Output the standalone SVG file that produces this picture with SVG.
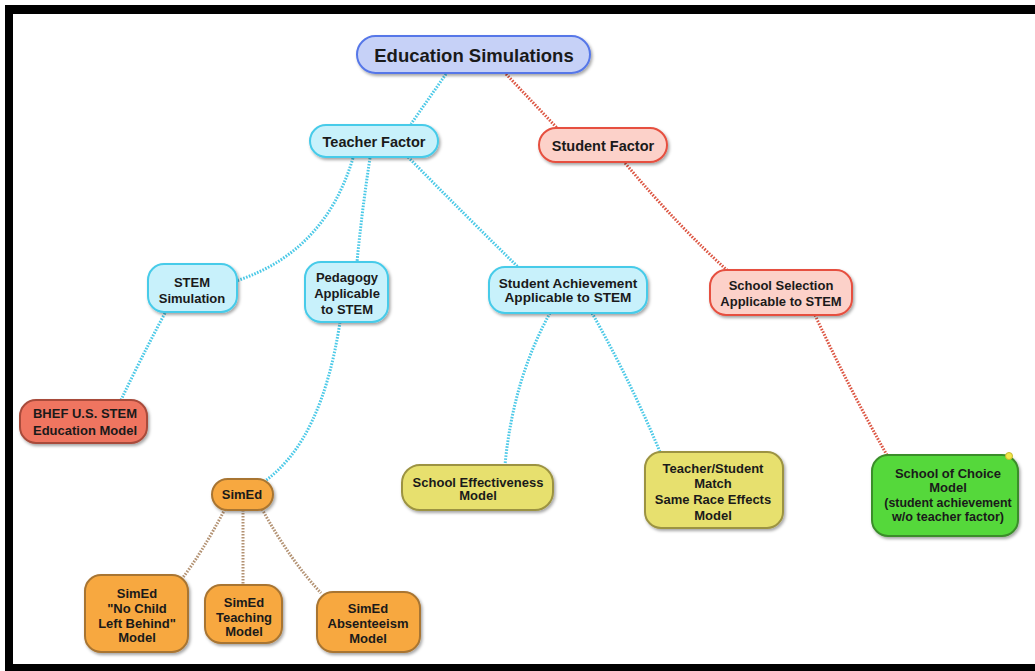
<svg xmlns="http://www.w3.org/2000/svg" width="1035" height="671" viewBox="0 0 1035 671">
  <defs>
    <filter id="shadow" x="-20%" y="-20%" width="140%" height="150%">
      <feDropShadow dx="1.5" dy="2" stdDeviation="1.4" flood-color="#000" flood-opacity="0.35"/>
    </filter>
  </defs>
  <style>
    text { font-family: "Liberation Sans", Arial, Helvetica, sans-serif; font-weight: bold; fill: #1a1a1a; text-anchor: middle; font-size: 13px; }
    .node rect { stroke-width: 2; filter: url(#shadow); }
    .blue rect { fill: #c6d1f7; stroke: #5677e8; }
    .cyan rect { fill: #c8f1fb; stroke: #46cbe9; }
    .red rect { fill: #fcd1c9; stroke: #e6503f; }
    .brick rect { fill: #ef7561; stroke: #a84b3b; }
    .orange rect { fill: #f7a83f; stroke: #a87533; }
    .yellow rect { fill: #e7e06e; stroke: #9c9342; }
    .green rect { fill: #55d83b; stroke: #3b8d2b; }
    .links path { fill: none; stroke-width: 3; stroke-dasharray: 1.6 1.4; }
    .links .c { stroke: #4cc9e7; }
    .links .r { stroke: #dc5542; }
    .links .b { stroke: #b39273; }
  </style>

  <!-- frame -->
  <rect x="0" y="0" width="1035" height="671" fill="#fff"/>
  <rect x="5" y="5" width="1040" height="680" fill="#000"/>
  <rect x="13" y="14" width="1030" height="650" fill="#fff"/>

  <!-- connectors -->
  <g id="connectors" class="links">
    <path class="c" d="M446,74 L411,124"/>
    <path class="r" d="M506,74 L558,129"/>
    <path class="c" d="M353,158 Q325,252 236,281"/>
    <path class="c" d="M370,158 Q362,210 357,262"/>
    <path class="c" d="M408,157 Q465,215 518,267"/>
    <path class="r" d="M625,163 Q680,228 728,271"/>
    <path class="c" d="M165,313 Q140,360 121,400"/>
    <path class="c" d="M340,322 Q322,440 265,481"/>
    <path class="c" d="M550,313 Q513,380 505,465"/>
    <path class="c" d="M592,313 Q630,380 660,452"/>
    <path class="r" d="M815,315 Q850,390 888,457"/>
    <path class="b" d="M225,509 Q202,553 181,580"/>
    <path class="b" d="M243,510 L243,585"/>
    <path class="b" d="M262,509 Q290,560 321,593"/>
  </g>

  <g id="education-simulations" class="node blue">
    <rect x="357" y="36" width="233" height="37" rx="18.5"/>
    <text x="474" y="61.5" style="font-size:18.5px">Education Simulations</text>
  </g>

  <g id="teacher-factor" class="node cyan">
    <rect x="310" y="125" width="128" height="32" rx="16"/>
    <text x="374" y="147" style="font-size:14.5px">Teacher Factor</text>
  </g>

  <g id="student-factor" class="node red">
    <rect x="539" y="128" width="128" height="34" rx="17"/>
    <text x="603" y="150.5" style="font-size:14.5px">Student Factor</text>
  </g>

  <g id="stem-simulation" class="node cyan">
    <rect x="148" y="264" width="89" height="48" rx="16"/>
    <text x="192" y="286.5">STEM</text>
    <text x="192" y="302.5">Simulation</text>
  </g>

  <g id="pedagogy" class="node cyan">
    <rect x="305" y="262" width="83" height="60" rx="16"/>
    <text x="347" y="281.5">Pedagogy</text>
    <text x="347" y="297.5">Applicable</text>
    <text x="347" y="313.5">to STEM</text>
  </g>

  <g id="student-achievement" class="node cyan">
    <rect x="489" y="267" width="158" height="46" rx="16"/>
    <text x="568" y="287.5" style="font-size:13.6px">Student Achievement</text>
    <text x="568" y="302" style="font-size:13.6px">Applicable to STEM</text>
  </g>

  <g id="school-selection" class="node red">
    <rect x="710" y="270" width="142" height="45" rx="16"/>
    <text x="781" y="289.5">School Selection</text>
    <text x="781" y="305.5">Applicable to STEM</text>
  </g>

  <g id="bhef" class="node brick">
    <rect x="20" y="400" width="127" height="43" rx="16"/>
    <text x="85" y="417.5">BHEF U.S. STEM</text>
    <text x="85" y="434.5">Education Model</text>
  </g>

  <g id="simed" class="node orange">
    <rect x="212" y="479" width="61" height="31" rx="15.5"/>
    <text x="242" y="498.5">SimEd</text>
  </g>

  <g id="school-effectiveness" class="node yellow">
    <rect x="402" y="465" width="151" height="45" rx="18"/>
    <text x="478" y="486.5">School Effectiveness</text>
    <text x="478" y="500">Model</text>
  </g>

  <g id="teacher-student-match" class="node yellow">
    <rect x="645" y="452" width="138" height="76" rx="16"/>
    <text x="713" y="472.5">Teacher/Student</text>
    <text x="713" y="487.5">Match</text>
    <text x="713" y="504">Same Race Effects</text>
    <text x="713" y="519.5">Model</text>
  </g>

  <g id="school-of-choice" class="node green">
    <rect x="872" y="455" width="146" height="81" rx="16"/>
    <text x="948" y="477.5">School of Choice</text>
    <text x="948" y="491.5">Model</text>
    <text x="948" y="506.5" style="font-size:12.4px">(student achievement</text>
    <text x="948" y="520.5" style="font-size:12.6px">w/o teacher factor)</text>
    <circle cx="1009" cy="456" r="3.5" fill="#f2e84a" stroke="#c8b830" stroke-width="1"/>
  </g>

  <g id="simed-nclb" class="node orange">
    <rect x="85" y="575" width="103" height="77" rx="16"/>
    <text x="137" y="597.5">SimEd</text>
    <text x="137" y="612.5">"No Child</text>
    <text x="137" y="627.5">Left Behind"</text>
    <text x="137" y="641.5">Model</text>
  </g>

  <g id="simed-teaching" class="node orange">
    <rect x="205" y="585" width="77" height="58" rx="16"/>
    <text x="244" y="606.5">SimEd</text>
    <text x="244" y="621.5">Teaching</text>
    <text x="244" y="635.5">Model</text>
  </g>

  <g id="simed-absenteeism" class="node orange">
    <rect x="317" y="592" width="103" height="60" rx="16"/>
    <text x="368" y="612.5">SimEd</text>
    <text x="368" y="627.5">Absenteeism</text>
    <text x="368" y="642.5">Model</text>
  </g>
</svg>
